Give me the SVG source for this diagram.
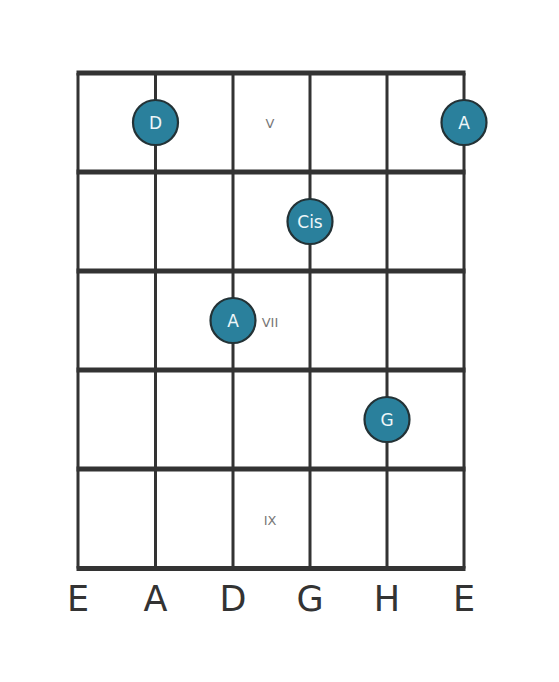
<svg xmlns="http://www.w3.org/2000/svg" width="559" height="682" viewBox="0 0 559 682">
<style>
.fret{stroke:#333;stroke-width:5;}
.str{stroke:#333;stroke-width:3;}
.dot{fill:#2a809c;stroke:#233236;stroke-width:2.2;}
.dl{font-family:"DejaVu Sans",sans-serif;font-size:17px;fill:#eef6f8;text-anchor:middle;dominant-baseline:central;}
.fl{font-family:"DejaVu Sans",sans-serif;font-size:13px;fill:#777;text-anchor:middle;dominant-baseline:central;}
.sn{font-family:"DejaVu Sans",sans-serif;font-size:35px;fill:#333;text-anchor:middle;}
</style>
<rect width="559" height="682" fill="#fff"/>
<g id="connectors">
<line class="str" x1="78" y1="73" x2="78" y2="568.5"/>
<line class="str" x1="155.5" y1="73" x2="155.5" y2="568.5"/>
<line class="str" x1="233" y1="73" x2="233" y2="568.5"/>
<line class="str" x1="310" y1="73" x2="310" y2="568.5"/>
<line class="str" x1="387" y1="73" x2="387" y2="568.5"/>
<line class="str" x1="464" y1="73" x2="464" y2="568.5"/>
<line class="fret" x1="76.5" y1="73" x2="465.5" y2="73"/>
<line class="fret" x1="76.5" y1="172" x2="465.5" y2="172"/>
<line class="fret" x1="76.5" y1="271" x2="465.5" y2="271"/>
<line class="fret" x1="76.5" y1="370" x2="465.5" y2="370"/>
<line class="fret" x1="76.5" y1="469" x2="465.5" y2="469"/>
<line class="fret" x1="76.5" y1="568.5" x2="465.5" y2="568.5"/>
</g>
<g id="fret-labels">
<text class="fl" x="270" y="123">V</text>
<text class="fl" x="270" y="322">VII</text>
<text class="fl" x="270" y="520">IX</text>
</g>
<g id="note-D"><circle class="dot" cx="155.5" cy="122.5" r="22.5"/><text class="dl" x="155.5" y="122.5">D</text></g>
<g id="note-A1"><circle class="dot" cx="464" cy="122.5" r="22.5"/><text class="dl" x="464" y="122.5">A</text></g>
<g id="note-Cis"><circle class="dot" cx="310" cy="221.5" r="22.5"/><text class="dl" x="310" y="221.5">Cis</text></g>
<g id="note-A2"><circle class="dot" cx="233" cy="320.5" r="22.5"/><text class="dl" x="233" y="320.5">A</text></g>
<g id="note-G"><circle class="dot" cx="387" cy="419.5" r="22.5"/><text class="dl" x="387" y="419.5">G</text></g>
<g id="string-names">
<text class="sn" x="78" y="611">E</text>
<text class="sn" x="155.5" y="611">A</text>
<text class="sn" x="233" y="611">D</text>
<text class="sn" x="310" y="611">G</text>
<text class="sn" x="387" y="611">H</text>
<text class="sn" x="464" y="611">E</text>
</g>
</svg>
